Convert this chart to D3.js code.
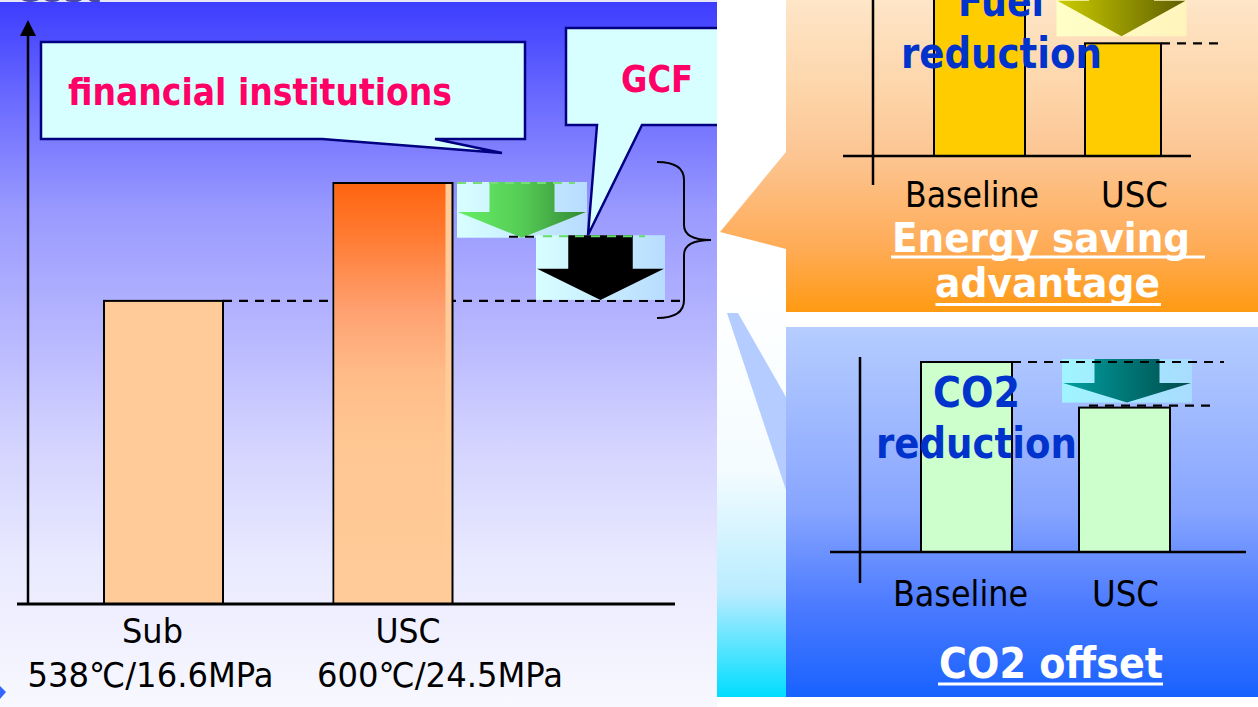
<!DOCTYPE html>
<html><head><meta charset="utf-8">
<script src="https://cdn.jsdelivr.net/npm/d3@7"></script>
<style>html,body{margin:0;padding:0;background:#fff;overflow:hidden}svg{display:block}</style>
</head><body><svg id="c" width="1258" height="707"></svg>
<script>
// ---------- data ----------
const mainCats = ["Sub", "USC"];
const mainConds = ["538℃/16.6MPa", "600℃/24.5MPa"];
const mainCost = [72, 100];
const financeStep = [100, 87];   // green arrow (financial institutions)
const gcfStep = [87, 72];        // black arrow (GCF)
const calloutLabels = ["financial institutions", "GCF"];
const yTitle = "Cost";
const miniCats = ["Baseline", "USC"];
const fuelUse = [100, 59];
const co2Emission = [100, 76];
const reductionLabels = [["Fuel", "reduction"], ["CO2", "reduction"]];
const panelTitles = [["Energy saving ", "advantage"], ["CO2 offset"]];

// ---------- setup ----------
const svg = d3.select("#c");
const defs = svg.append("defs");
const FONT = "'DejaVu Sans', Verdana, sans-serif";

function grad(id, x1, y1, x2, y2, stops, user) {
  const g = defs.append("linearGradient").attr("id", id)
    .attr("x1", x1).attr("y1", y1).attr("x2", x2).attr("y2", y2);
  if (user) g.attr("gradientUnits", "userSpaceOnUse");
  stops.forEach(s => g.append("stop").attr("offset", s[0]).attr("stop-color", s[1]));
  return `url(#${id})`;
}
const bgLeft = grad("bgLeft", 0, 0, 0, 707, [[0, "#3c3cff"], [0.14, "#6a6aff"], [0.3, "#9a9aff"], [0.5, "#bcbcff"], [0.62, "#d2d2ff"], [0.8, "#eaeaff"], [1, "#f8f8ff"]], true);
const uscGrad = grad("uscGrad", 0, 0, 0, 1, [[0, "#ff6410"], [0.12, "#ff7a30"], [0.3, "#ffa070"], [0.45, "#ffbb88"], [0.6, "#ffc692"], [1, "#ffcc99"]]);
const boxGrad = grad("boxGrad", 0, 0, 1, 0, [[0, "#d8ffff"], [1, "#b8dcff"]]);
const greenGrad = grad("greenGrad", 0, 0, 1, 0, [[0, "#66ee66"], [0.5, "#55cc55"], [1, "#338833"]]);
const tealBox = grad("tealBox", 0, 0, 1, 0, [[0, "#a0f4ff"], [1, "#a8dcff"]]);
const tealGrad = grad("tealGrad", 0, 0, 1, 0, [[0, "#00a0a0"], [1, "#004a4a"]]);
const yelBox = grad("yelBox", 0, 0, 1, 0, [[0, "#ffffc8"], [1, "#fff4bc"]]);
const yelGrad = grad("yelGrad", 0, 0, 1, 0, [[0, "#cccc00"], [1, "#5e5e00"]]);
const orangeBg = grad("orangeBg", 0, 0, 0, 312, [[0, "#fee6c8"], [0.3, "#fdd4a8"], [0.5, "#fcc592"], [0.8, "#ffab55"], [1, "#ff9a12"]], true);
const blueBg = grad("blueBg", 0, 327, 0, 697, [[0, "#b5cdff"], [0.3, "#9ab5ff"], [0.5, "#86a4ff"], [0.75, "#4c7bff"], [1, "#1862ff"]], true);
const stripBg = grad("stripBg", 0, 283, 0, 697, [[0, "#ffffff"], [0.45, "#f4fcff"], [0.75, "#b8ecff"], [1, "#00ddff"]], true);

function txt(g, s, x, y, size, w, fill, bold) {
  return g.append("text").text(s).attr("x", x).attr("y", y)
    .attr("font-family", FONT).attr("font-size", size)
    .attr("font-weight", bold ? "bold" : "normal").attr("fill", fill)
    .attr("textLength", w).attr("lengthAdjust", "spacingAndGlyphs");
}
function downArrow(g, cx, yTop, yBot, boxW, boxFill, arrowFill, shaftFrac) {
  g.append("rect").attr("x", cx - boxW / 2).attr("y", yTop).attr("width", boxW).attr("height", yBot - yTop).attr("fill", boxFill);
  const hw = boxW / 2 - 1, sw = boxW / 4, ys = yTop + (yBot - yTop) * shaftFrac;
  g.append("path").attr("d", `M${cx - sw},${yTop}H${cx + sw}V${ys}H${cx + hw}L${cx},${yBot}L${cx - hw},${ys}H${cx - sw}Z`).attr("fill", arrowFill);
}
function dashed(g, x1, x2, y, color) {
  g.append("line").attr("x1", x1).attr("x2", x2).attr("y1", y).attr("y2", y)
    .attr("stroke", color).attr("stroke-width", 2.2).attr("stroke-dasharray", "9,7");
}

// ---------- right side backgrounds ----------
svg.append("rect").attr("x", 716).attr("y", 283).attr("width", 70).attr("height", 414).attr("fill", stripBg);
svg.append("path").attr("d", "M727,313L738,313L786,397L786,490Z").attr("fill", "#b4ccff");
svg.append("rect").attr("x", 786).attr("y", 0).attr("width", 472).attr("height", 312).attr("fill", orangeBg);
svg.append("path").attr("d", "M786,152L720,232L786,249Z").attr("fill", orangeBg);
svg.append("rect").attr("x", 786).attr("y", 327).attr("width", 472).attr("height", 370).attr("fill", blueBg);

// ---------- left panel ----------
defs.append("clipPath").attr("id", "leftClip").append("rect").attr("width", 717).attr("height", 707);
const L = svg.append("g").attr("clip-path", "url(#leftClip)");
L.append("rect").attr("width", 717).attr("height", 707).attr("fill", bgLeft);
L.append("rect").attr("width", 717).attr("height", 2).attr("fill", "#e6e6f4");

const yMain = d3.scaleLinear().domain([0, 100]).range([604, 183]);
const xMain = d3.scalePoint().domain(mainCats).range([163.5, 393]);
const barW = 119;

txt(L, yTitle, 15, 2, 30, 86, "#4848a8", true);

// baseline dashed level of Sub
dashed(L, xMain("Sub") + barW / 2, 683, yMain(mainCost[0]), "#000");

// bars
L.selectAll("rect.bar").data(mainCats).join("rect").attr("class", "bar")
  .attr("x", d => xMain(d) - barW / 2)
  .attr("y", (d, i) => yMain(mainCost[i]))
  .attr("width", barW)
  .attr("height", (d, i) => yMain(0) - yMain(mainCost[i]))
  .attr("fill", "#ffcc99").attr("stroke", "#000").attr("stroke-width", 2);
L.append("rect")
  .attr("x", xMain("USC") - barW / 2 + 1).attr("y", yMain(mainCost[1]) + 1)
  .attr("width", barW - 8).attr("height", yMain(0) - yMain(mainCost[1]) - 2)
  .attr("fill", uscGrad);

// axes
L.append("line").attr("x1", 28).attr("x2", 28).attr("y1", 34).attr("y2", yMain(0)).attr("stroke", "#000").attr("stroke-width", 2.5);
L.append("path").attr("d", "M20,36L36,36L28,20Z").attr("fill", "#000");
L.append("line").attr("x1", 17).attr("x2", 675).attr("y1", yMain(0)).attr("y2", yMain(0)).attr("stroke", "#000").attr("stroke-width", 3);

// category labels
const catDx = [-11, 15], condDx = [-13, 47];
mainCats.forEach((c, i) => {
  L.append("text").text(c).attr("x", xMain(c) + catDx[i]).attr("y", 643).attr("text-anchor", "middle")
    .attr("font-family", FONT).attr("font-size", 34).attr("fill", "#000")
    .attr("textLength", i === 0 ? 61 : 65).attr("lengthAdjust", "spacingAndGlyphs");
  L.append("text").text(mainConds[i]).attr("x", xMain(c) + condDx[i]).attr("y", 687).attr("text-anchor", "middle")
    .attr("font-family", FONT).attr("font-size", 34).attr("fill", "#000")
    .attr("textLength", 246).attr("lengthAdjust", "spacingAndGlyphs");
});

// reduction arrows
const uscX = xMain("USC");
downArrow(L, uscX + 129, yMain(financeStep[0]) - 1, yMain(financeStep[1]), 130, boxGrad, greenGrad, 0.54);
dashed(L, uscX + 64, uscX + 182, yMain(financeStep[0]), "#77dd77");
dashed(L, uscX + 116, uscX + 150, yMain(financeStep[1]) - 1, "#000");
downArrow(L, uscX + 207.5, yMain(gcfStep[0]) - 2.5, yMain(gcfStep[1]) - 1, 129, boxGrad, "#000", 0.52);
dashed(L, uscX + 150, uscX + 252, yMain(gcfStep[0]) - 1.5, "#66dd66");

// brace
const bT = yMain(financeStep[0]) - 21, bB = yMain(gcfStep[1]) + 17, bM = (bT + bB) / 2;
L.append("path")
  .attr("d", `M657,${bT}Q684,${bT} 684,${bT + 18}V${bM - 15}Q684,${bM} 711,${bM}Q684,${bM} 684,${bM + 15}V${bB - 18}Q684,${bB} 657,${bB}`)
  .attr("fill", "none").attr("stroke", "#000").attr("stroke-width", 2);

// callouts
L.append("path").attr("d", "M41,42H525V139H435L502,153L322,139H41Z")
  .attr("fill", "#d8ffff").attr("stroke", "#000080").attr("stroke-width", 2.5).attr("stroke-linejoin", "miter");
L.append("path").attr("d", "M566,28H760V125H642L588,235L597,125H566Z")
  .attr("fill", "#d8ffff").attr("stroke", "#000080").attr("stroke-width", 2.5);
txt(L, calloutLabels[0], 68, 105, 38, 384, "#ff0066", true);
txt(L, calloutLabels[1], 621, 92, 38, 72, "#ff0066", true);

// decorative marker bottom-left
svg.append("path").attr("d", "M0,686L6,692L0,699Z").attr("fill", "#3366ff");

// ---------- energy saving (fuel) mini chart ----------
const F = svg.append("g");
const yFuel = d3.scaleLinear().domain([0, 100]).range([156, -35]);
const xFuel = d3.scalePoint().domain(miniCats).range([979.5, 1123]);
const fuelW = [91, 76];
F.selectAll("rect.fb").data(miniCats).join("rect").attr("class", "fb")
  .attr("x", (d, i) => xFuel(d) - fuelW[i] / 2).attr("y", (d, i) => yFuel(fuelUse[i]))
  .attr("width", (d, i) => fuelW[i]).attr("height", (d, i) => yFuel(0) - yFuel(fuelUse[i]))
  .attr("fill", "#ffcc00").attr("stroke", "#000").attr("stroke-width", 2);
F.append("line").attr("x1", 873).attr("x2", 873).attr("y1", 0).attr("y2", 185).attr("stroke", "#000").attr("stroke-width", 2.5);
F.append("line").attr("x1", 843).attr("x2", 1191).attr("y1", yFuel(0)).attr("y2", yFuel(0)).attr("stroke", "#000").attr("stroke-width", 2.5);
dashed(F, xFuel("USC") + fuelW[1] / 2, 1222, yFuel(fuelUse[1]), "#000");
downArrow(F, 1121.5, yFuel(fuelUse[0]), yFuel(fuelUse[1]) - 7, 130, yelBox, yelGrad, 0.5);
txt(F, reductionLabels[0][0], 958, 16, 43, 86, "#0033cc", true);
txt(F, reductionLabels[0][1], 901, 68, 43, 201, "#0033cc", true);
txt(F, miniCats[0], 905, 207, 36, 134, "#000", false);
txt(F, miniCats[1], 1101, 207, 36, 67, "#000", false);
txt(F, panelTitles[0][0].trim(), 892, 252, 40, 298, "#fff", true);
F.append("rect").attr("x", 891).attr("y", 255.5).attr("width", 314).attr("height", 3).attr("fill", "#fff");
txt(F, panelTitles[0][1], 935, 297, 40, 225, "#fff", true);
F.append("rect").attr("x", 935.5).attr("y", 303).attr("width", 225.5).attr("height", 3).attr("fill", "#fff");

// ---------- CO2 mini chart ----------
const C = svg.append("g");
const yCO2 = d3.scaleLinear().domain([0, 100]).range([552, 362]);
const xCO2 = d3.scalePoint().domain(miniCats).range([966.5, 1124.5]);
const co2W = 91;
C.selectAll("rect.cb").data(miniCats).join("rect").attr("class", "cb")
  .attr("x", d => xCO2(d) - co2W / 2).attr("y", (d, i) => yCO2(co2Emission[i]))
  .attr("width", co2W).attr("height", (d, i) => yCO2(0) - yCO2(co2Emission[i]))
  .attr("fill", "#ccffcc").attr("stroke", "#000").attr("stroke-width", 2);
C.append("line").attr("x1", 860).attr("x2", 860).attr("y1", 357).attr("y2", 583).attr("stroke", "#000").attr("stroke-width", 2.5);
C.append("line").attr("x1", 830).attr("x2", 1246).attr("y1", yCO2(0)).attr("y2", yCO2(0)).attr("stroke", "#000").attr("stroke-width", 2.5);
downArrow(C, 1127, yCO2(co2Emission[0]) - 3, yCO2(co2Emission[1]) - 5, 130, tealBox, tealGrad, 0.55);
dashed(C, xCO2("Baseline") + co2W / 2, 1224, yCO2(co2Emission[0]), "#000");
dashed(C, xCO2("USC") - co2W / 2 + 10, 1216, yCO2(co2Emission[1]) - 2, "#000");
txt(C, reductionLabels[1][0], 933, 407, 43, 87, "#0033cc", true);
txt(C, reductionLabels[1][1], 876, 458, 43, 201, "#0033cc", true);
txt(C, miniCats[0], 893, 606, 36, 135, "#000", false);
txt(C, miniCats[1], 1092, 606, 36, 67, "#000", false);
txt(C, panelTitles[1][0], 939, 678, 42, 224, "#fff", true);
C.append("rect").attr("x", 938).attr("y", 682.5).attr("width", 225).attr("height", 3).attr("fill", "#fff");
</script></body></html>
